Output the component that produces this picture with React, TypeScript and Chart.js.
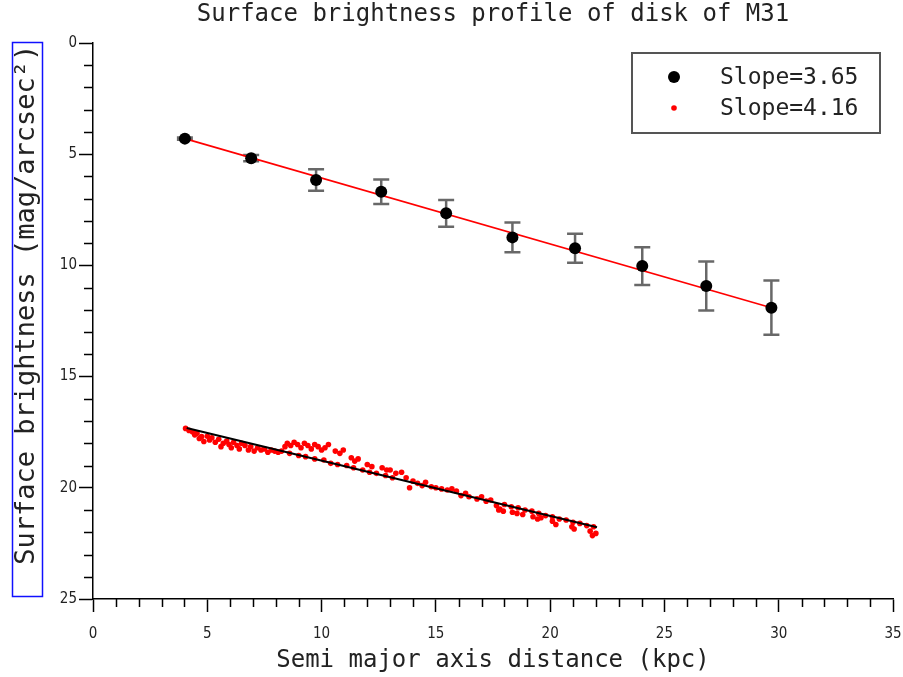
import { useEffect, useRef } from 'react';
import { Chart, registerables } from 'chart.js';

Chart.register(...registerables);

const MONO = "'DejaVu Sans Mono', 'Liberation Mono', monospace";
const NARROW = "'Liberation Sans Narrow', 'DejaVu Sans Condensed', sans-serif";

const chartTitle = 'Surface brightness profile of disk of M31';
const xAxisTitle = 'Semi major axis distance (kpc)';
const yAxisTitle = '  Surface brightness (mag/arcsec\u00B2)';
const legendLabels = ['Slope=3.65', 'Slope=4.16'];

const xMajorTicks = [0, 5, 10, 15, 20, 25, 30, 35];
const yMajorTicks = [0, 5, 10, 15, 20, 25];

// Binned disk profile with error bars (black points)
const diskX = [4.02, 6.92, 9.76, 12.61, 15.45, 18.35, 21.09, 24.03, 26.83, 29.68];
const diskY = [4.3, 5.18, 6.16, 6.69, 7.66, 8.74, 9.23, 10.03, 10.93, 11.9];
const diskErr = [0.05, 0.14, 0.48, 0.55, 0.6, 0.67, 0.65, 0.85, 1.1, 1.22];

// Fit line through black points (red)
const diskFitX = [4.02, 29.68];
const diskFitY = [4.3, 11.9];

// Fine-sampled profile (red dots)
const profX = [
  4.05, 4.2, 4.35, 4.45, 4.55, 4.65, 4.75, 4.85, 5.0, 5.1, 5.2, 5.35, 5.5, 5.6, 5.7, 5.85, 5.95, 6.05,
  6.15, 6.3, 6.4, 6.5, 6.65, 6.8, 6.9, 7.05, 7.2, 7.35, 7.5, 7.65, 7.8, 7.95, 8.1, 8.25, 8.4,
  8.5, 8.65, 8.8, 8.95, 9.1, 9.25, 9.4, 9.55, 9.7, 9.85, 10.0, 10.15, 10.3, 10.6, 10.8, 10.95, 11.3,
  11.45, 11.6, 12.0, 12.2, 12.65, 12.85,
  8.6, 9.0, 9.3, 9.7, 10.1, 10.4, 10.7, 11.1, 11.4, 11.8, 12.1, 12.4, 12.8, 13.1,
  13.0, 13.25, 13.5, 13.7, 13.85, 14.0, 14.2, 14.4, 14.55, 14.8, 15.0, 15.25, 15.5, 15.7, 15.9, 16.1,
  16.3, 16.45, 16.8, 17.0, 17.2, 17.4, 17.65, 17.8,
  18.0, 18.3, 18.6, 18.9, 19.2, 19.5, 19.8, 20.1, 20.4, 20.7, 21.0, 21.3, 21.6, 21.9,
  17.75, 17.95, 18.35, 18.55, 18.8, 19.25, 19.45, 19.6, 20.1, 20.25, 20.95, 21.05, 21.75, 21.85, 22.0,
];
const profY = [
  17.33, 17.42, 17.48, 17.62, 17.55, 17.78, 17.7, 17.92, 17.68, 17.85, 17.75, 17.95, 17.82, 18.15, 18.0, 17.9, 18.05, 18.2,
  17.95, 18.1, 18.25, 18.0, 18.1, 18.3, 18.15, 18.35, 18.2, 18.3, 18.25, 18.4, 18.3, 18.35, 18.4, 18.35, 18.15,
  18.0, 18.1, 17.95, 18.05, 18.2, 18.0, 18.1, 18.25, 18.05, 18.15, 18.3, 18.2, 18.05, 18.35, 18.45, 18.3, 18.65,
  18.8, 18.7, 18.95, 19.05, 19.1, 19.2,
  18.45, 18.55, 18.6, 18.7, 18.75, 18.9, 18.95, 19.0, 19.1, 19.2, 19.3, 19.35, 19.45, 19.55,
  19.2, 19.35, 19.3, 19.55, 20.0, 19.7, 19.8, 19.9, 19.75, 19.95, 20.0, 20.05, 20.1, 20.05, 20.15, 20.35,
  20.25, 20.4, 20.5, 20.4, 20.6, 20.55, 20.8, 20.95,
  20.75, 20.85, 20.9, 21.0, 21.05, 21.15, 21.25, 21.3, 21.4, 21.45, 21.55, 21.6, 21.7, 21.75,
  21.0, 21.05, 21.1, 21.15, 21.2, 21.3, 21.4, 21.35, 21.5, 21.65, 21.75, 21.85, 21.95, 22.15, 22.05,
];

// Fit line through red dots (black)
const profFitX = [4.1, 22.05];
const profFitY = [17.31, 21.77];

const toPoints = (xs: number[], ys: number[]) => xs.map((x, i) => ({ x, y: ys[i] }));

const errorBarPlugin = {
  id: 'errorBars',
  beforeDatasetsDraw(chart: any) {
    const { ctx, scales } = chart;
    const x = scales.x;
    const y = scales.y;
    ctx.save();
    ctx.strokeStyle = 'rgba(40,40,40,0.7)';
    ctx.lineWidth = 2.5;
    diskX.forEach((xv, i) => {
      const px = x.getPixelForValue(xv);
      const y1 = y.getPixelForValue(diskY[i] - diskErr[i]);
      const y2 = y.getPixelForValue(diskY[i] + diskErr[i]);
      ctx.beginPath();
      ctx.moveTo(px, y1);
      ctx.lineTo(px, y2);
      ctx.moveTo(px - 8, y1);
      ctx.lineTo(px + 8, y1);
      ctx.moveTo(px - 8, y2);
      ctx.lineTo(px + 8, y2);
      ctx.stroke();
    });
    ctx.restore();
  },
};

const decorPlugin = {
  id: 'decor',
  afterDraw(chart: any) {
    const { ctx, chartArea, scales } = chart;
    const x = scales.x;
    const y = scales.y;
    ctx.save();
    // minor ticks
    ctx.strokeStyle = '#000';
    ctx.lineWidth = 1.5;
    ctx.beginPath();
    x.ticks.forEach((t: any) => {
      if (xMajorTicks.includes(t.value)) return;
      const px = Math.round(x.getPixelForValue(t.value)) + 0.5;
      ctx.moveTo(px, chartArea.bottom);
      ctx.lineTo(px, chartArea.bottom + 8);
    });
    y.ticks.forEach((t: any) => {
      if (yMajorTicks.includes(t.value)) return;
      const py = Math.round(y.getPixelForValue(t.value)) + 0.5;
      ctx.moveTo(chartArea.left, py);
      ctx.lineTo(chartArea.left - 9, py);
    });
    ctx.stroke();

    // blue box around y title
    ctx.strokeStyle = '#1010ff';
    ctx.lineWidth = 1.5;
    ctx.strokeRect(12.5, chartArea.top - 0.5, 30, chartArea.bottom - chartArea.top - 2);

    // legend box
    const w = 248;
    const h = 80;
    const left = chartArea.right - 13 - w;
    const top = chartArea.top + 10;
    ctx.fillStyle = '#fff';
    ctx.fillRect(left, top, w, h);
    ctx.strokeStyle = '#555';
    ctx.lineWidth = 2;
    ctx.strokeRect(left, top, w, h);
    const ds = chart.data.datasets;
    const items = [
      { label: legendLabels[0], color: ds[2].backgroundColor, r: ds[2].pointRadius, dy: 24 },
      { label: legendLabels[1], color: ds[1].backgroundColor, r: ds[1].pointRadius, dy: 55 },
    ];
    ctx.font = `23px ${MONO}`;
    ctx.textBaseline = 'middle';
    ctx.textAlign = 'left';
    items.forEach((it) => {
      const cy = top + it.dy;
      ctx.beginPath();
      ctx.fillStyle = it.color;
      ctx.arc(left + 42, cy, it.r, 0, Math.PI * 2);
      ctx.fill();
      ctx.fillStyle = '#222';
      ctx.fillText(it.label, left + 88, cy + 1);
    });
    ctx.restore();
  },
};

export default function App() {
  const ref = useRef<HTMLCanvasElement | null>(null);

  useEffect(() => {
    if (!ref.current) return;
    const chart = new Chart(ref.current, {
      type: 'scatter',
      data: {
        datasets: [
          {
            label: 'Fit (profile)',
            data: toPoints(profFitX, profFitY),
            showLine: true,
            borderColor: '#000',
            backgroundColor: '#000',
            borderWidth: 2,
            pointRadius: 0,
          },
          {
            label: legendLabels[1],
            data: toPoints(profX, profY),
            backgroundColor: '#ff0000',
            borderWidth: 0,
            pointRadius: 2.8,
          },
          {
            label: legendLabels[0],
            data: toPoints(diskX, diskY),
            backgroundColor: '#000',
            borderWidth: 0,
            pointRadius: 6,
          },
          {
            label: 'Fit (binned)',
            data: toPoints(diskFitX, diskFitY),
            showLine: true,
            borderColor: '#ff0000',
            backgroundColor: '#ff0000',
            borderWidth: 1.6,
            pointRadius: 0,
          },
        ],
      },
      options: {
        animation: false,
        responsive: false,
        layout: { padding: { left: 0, right: 10, top: 0, bottom: 0 } },
        plugins: {
          legend: { display: false },
          tooltip: { enabled: false },
          title: {
            display: true,
            text: chartTitle,
            fullSize: false,
            color: '#222',
            font: { family: MONO, size: 24, weight: 'normal', lineHeight: 1 },
            padding: { top: 3, bottom: 16 },
          },
        },
        scales: {
          x: {
            type: 'linear',
            min: 0,
            max: 35,
            afterFit: (s: any) => {
              s.height = 78;
              s.paddingLeft = 0;
              s.paddingRight = 0;
            },
            border: { display: true, color: '#000', width: 1.5 },
            grid: {
              drawOnChartArea: false,
              drawTicks: true,
              tickLength: 13,
              tickWidth: 1.5,
              tickColor: (c: any) => (c.tick && xMajorTicks.includes(c.tick.value) ? '#000' : 'rgba(0,0,0,0)'),
            },
            ticks: {
              stepSize: 1,
              autoSkip: false,
              maxRotation: 0,
              padding: 13,
              color: '#222',
              font: { family: NARROW, size: 15 },
              callback: (v: any) => (xMajorTicks.includes(v) ? String(v) : ''),
            },
            title: {
              display: true,
              text: xAxisTitle,
              color: '#222',
              font: { family: MONO, size: 24, lineHeight: 1 },
              padding: { top: 8, bottom: 4 },
            },
          },
          y: {
            type: 'linear',
            reverse: true,
            min: 0,
            max: 25,
            afterFit: (s: any) => {
              s.width = 93;
            },
            border: { display: true, color: '#000', width: 1.5 },
            grid: {
              drawOnChartArea: false,
              drawTicks: true,
              tickLength: 14,
              tickWidth: 1.5,
              tickColor: (c: any) => (c.tick && yMajorTicks.includes(c.tick.value) ? '#000' : 'rgba(0,0,0,0)'),
            },
            ticks: {
              stepSize: 1,
              autoSkip: false,
              padding: 2,
              color: '#222',
              font: { family: NARROW, size: 15 },
              callback: (v: any) => (yMajorTicks.includes(v) ? String(v) : ''),
            },
            title: {
              display: true,
              text: yAxisTitle,
              color: '#222',
              font: { family: MONO, size: 27, lineHeight: 1 },
              padding: { top: 13.5, bottom: 0 },
            },
          },
        },
      },
      plugins: [errorBarPlugin, decorPlugin],
    });
    return () => chart.destroy();
  }, []);

  return (
    <div style={{ position: 'absolute', left: 0, top: 0, width: 903, height: 677, background: '#fff' }}>
      <canvas ref={ref} width={903} height={677} style={{ display: 'block' }} />
    </div>
  );
}
